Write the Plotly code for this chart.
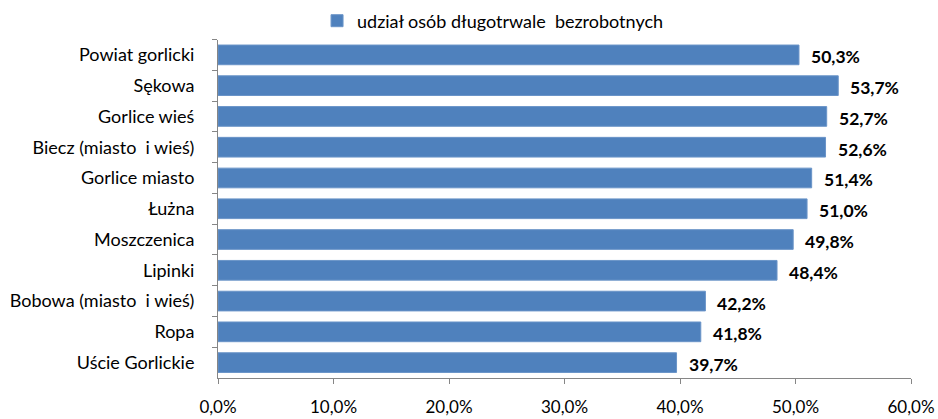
import plotly.graph_objects as go

categories = ["Powiat gorlicki", "Sękowa", "Gorlice wieś", "Biecz (miasto  i wieś)",
              "Gorlice miasto", "Łużna", "Moszczenica", "Lipinki",
              "Bobowa (miasto  i wieś)", "Ropa", "Uście Gorlickie"]
values = [50.3, 53.7, 52.7, 52.6, 51.4, 51.0, 49.8, 48.4, 42.2, 41.8, 39.7]
series_name = "udział osób długotrwale  bezrobotnych"
x_ticks = [0, 10, 20, 30, 40, 50, 60]
x_tick_labels = ["0,0%", "10,0%", "20,0%", "30,0%", "40,0%", "50,0%", "60,0%"]

FONT = "Lato, 'Open Sans', sans-serif"
labels = [f"{v:.1f}%".replace(".", ",") for v in values]

fig = go.Figure()
fig.add_trace(go.Bar(
    y=categories, x=values, orientation="h", name=series_name,
    marker=dict(color="#4F81BD", line=dict(color="#6A94C8", width=1)),
    showlegend=True,
))

for c, v, t in zip(categories, values, labels):
    fig.add_annotation(x=v, y=c, text=f"<b>{t}</b>", showarrow=False,
                       xanchor="left", xshift=10, yshift=-2,
                       font=dict(family=FONT, size=17.5, color="#000000"))

fig.update_layout(
    width=938, height=419,
    margin=dict(l=218, r=27, t=37, b=41),
    paper_bgcolor="white", plot_bgcolor="white",
    bargap=0.36,
    font=dict(family=FONT, size=18, color="#000000"),
    legend=dict(orientation="h", x=0.338, xref="container", xanchor="left",
                y=1 - 21 / 419, yref="container", yanchor="middle",
                font=dict(family=FONT, size=18), itemwidth=30,
                bgcolor="rgba(0,0,0,0)"),
    xaxis=dict(range=[0, 60], tickvals=x_ticks, ticktext=x_tick_labels,
               showgrid=False, zeroline=False, showline=True, linecolor="#868686",
               linewidth=1, ticks="outside", ticklen=5, tickcolor="#868686",
               ticklabelstandoff=9, automargin=False,
               tickfont=dict(family=FONT, size=17)),
    yaxis=dict(categoryorder="array", categoryarray=categories, autorange="reversed",
               showgrid=False, zeroline=False, showline=True, linecolor="#868686",
               linewidth=1, ticks="outside", ticklen=5, tickcolor="#868686",
               tickson="boundaries", ticklabelstandoff=19, automargin=False,
               tickfont=dict(family=FONT, size=18)),
)

fig.write_html("out.html", config={"displayModeBar": False},
               post_script="document.body.style.margin='0px';document.body.style.overflow='hidden';")
